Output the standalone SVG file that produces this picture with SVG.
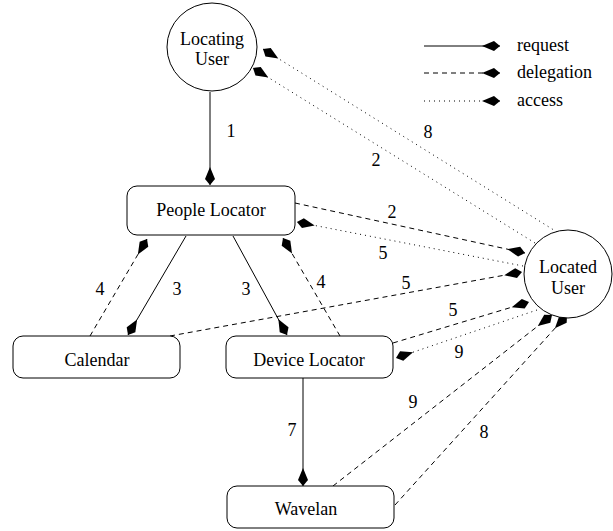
<svg xmlns="http://www.w3.org/2000/svg" width="613" height="531" viewBox="0 0 613 531">
<style>
.node{fill:#fff;stroke:#000;stroke-width:1}
.c{fill:none;stroke:#000;stroke-width:1}
.req{marker-end:url(#ah)}
.del{stroke-dasharray:5,4;marker-end:url(#ah)}
.acc{stroke-dasharray:1,4;marker-end:url(#ah)}
</style>
<defs>
<marker id="ah" markerUnits="userSpaceOnUse" markerWidth="22" markerHeight="14" viewBox="-20 -7 21 14" refX="0" refY="0" orient="auto">
<path d="M0,0 L-6,-5 L-18,0 L-6,5 Z" fill="#000"/>
</marker>
</defs>
<rect width="613" height="531" fill="#fff"/>
<g id="connectors">
<line class="c req" x1="210" y1="92" x2="210" y2="185"/>
<line class="c del" x1="295" y1="203" x2="525" y2="253"/>
<line class="c acc" x1="523" y1="266" x2="297" y2="222"/>
<line class="c acc" x1="557" y1="232" x2="263" y2="49"/>
<line class="c acc" x1="535" y1="243" x2="253" y2="68"/>
<line class="c req" x1="186" y1="236" x2="128" y2="335"/>
<line class="c req" x1="233" y1="236" x2="287" y2="335"/>
<line class="c del" x1="90" y1="336" x2="147" y2="239"/>
<line class="c del" x1="340" y1="336" x2="283" y2="238"/>
<line class="c del" x1="170" y1="336" x2="522" y2="272"/>
<line class="c del" x1="393" y1="343" x2="529" y2="302"/>
<line class="c acc" x1="537" y1="310" x2="396" y2="358"/>
<line class="c del" x1="333" y1="486" x2="552" y2="315"/>
<line class="c del" x1="395" y1="505" x2="567" y2="315"/>
<line class="c req" x1="303" y1="378" x2="303" y2="486"/>
</g>
<g id="labels" font-family="Liberation Serif, Times New Roman, serif" font-size="18" fill="#000" text-anchor="middle">
<text x="231" y="137">1</text>
<text x="392" y="218">2</text>
<text x="383" y="259">5</text>
<text x="428" y="138">8</text>
<text x="376" y="166">2</text>
<text x="177" y="295">3</text>
<text x="246" y="295">3</text>
<text x="100" y="295">4</text>
<text x="321" y="288">4</text>
<text x="406" y="289">5</text>
<text x="453" y="316">5</text>
<text x="459" y="358">9</text>
<text x="413" y="408">9</text>
<text x="484" y="438">8</text>
<text x="292" y="436">7</text>
</g>
<g id="locating-user" font-family="Liberation Serif, Times New Roman, serif" font-size="18" text-anchor="middle">
<ellipse class="node" cx="212" cy="47" rx="45" ry="44"/>
<text x="212" y="45">Locating</text>
<text x="212" y="65">User</text>
</g>
<g id="located-user" font-family="Liberation Serif, Times New Roman, serif" font-size="18" text-anchor="middle">
<circle class="node" cx="568" cy="274" r="44"/>
<text x="568" y="273">Located</text>
<text x="568" y="294">User</text>
</g>
<g id="people-locator" font-family="Liberation Serif, Times New Roman, serif" font-size="18" text-anchor="middle">
<rect class="node" x="127" y="186" width="168" height="49" rx="10"/>
<text x="211" y="216">People Locator</text>
</g>
<g id="calendar" font-family="Liberation Serif, Times New Roman, serif" font-size="18" text-anchor="middle">
<rect class="node" x="13" y="336" width="167" height="42" rx="10"/>
<text x="97" y="366">Calendar</text>
</g>
<g id="device-locator" font-family="Liberation Serif, Times New Roman, serif" font-size="18" text-anchor="middle">
<rect class="node" x="226" y="336" width="167" height="42" rx="10"/>
<text x="309" y="366">Device Locator</text>
</g>
<g id="wavelan" font-family="Liberation Serif, Times New Roman, serif" font-size="18" text-anchor="middle">
<rect class="node" x="227" y="486" width="167" height="42" rx="10"/>
<text x="306" y="515">Wavelan</text>
</g>
<g id="legend" font-family="Liberation Serif, Times New Roman, serif" font-size="18">
<line class="c req" x1="424" y1="46" x2="500" y2="46"/>
<line class="c del" x1="424" y1="73" x2="500" y2="73"/>
<line class="c acc" x1="424" y1="101" x2="500" y2="101"/>
<text x="517" y="51">request</text>
<text x="517" y="78">delegation</text>
<text x="517" y="106">access</text>
</g>
</svg>
